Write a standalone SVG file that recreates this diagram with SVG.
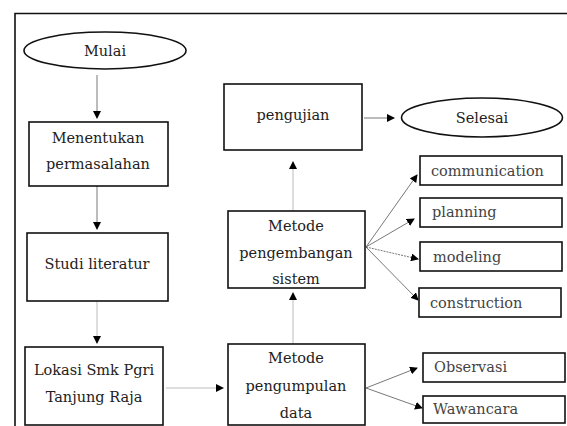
<svg xmlns="http://www.w3.org/2000/svg" width="567" height="426" viewBox="0 0 567 426">
<defs>
<marker id="ah" markerWidth="8" markerHeight="8" refX="7" refY="4" orient="auto" markerUnits="userSpaceOnUse">
<path d="M0,0 L8,4 L0,8 Z" fill="#000"/>
</marker>
<style>
.b{fill:#fff;stroke:#111;stroke-width:1.6}
.t{font-family:"DejaVu Serif","Liberation Serif",serif;font-size:14.5px;fill:#222;text-anchor:middle}
.l{font-family:"DejaVu Serif","Liberation Serif",serif;font-size:14.5px;fill:#444}
.c{stroke:#555;stroke-width:0.8;fill:none;marker-end:url(#ah)}
.g{stroke:#aaa;stroke-width:0.8;fill:none;marker-end:url(#ah)}
</style>
</defs>
<rect width="567" height="426" fill="#fff"/>
<path d="M15,426 V13.5 H567" fill="none" stroke="#111" stroke-width="1.6"/>
<g id="connectors">
<line class="c" x1="97" y1="75" x2="97" y2="118"/>
<line class="c" x1="97" y1="186" x2="97" y2="229"/>
<line class="g" x1="97" y1="301" x2="97" y2="343"/>
<line class="g" x1="166" y1="388" x2="223" y2="388"/>
<line class="g" x1="293" y1="344" x2="293" y2="293"/>
<line class="g" x1="293" y1="211" x2="293" y2="162"/>
<line class="c" x1="364" y1="118" x2="394" y2="118"/>
<line class="c" x1="366" y1="247" x2="417" y2="175"/>
<line class="c" x1="366" y1="247" x2="414" y2="219"/>
<line class="c" x1="366" y1="247" x2="418" y2="259" stroke-dasharray="2,1"/>
<line class="c" x1="366" y1="247" x2="418" y2="300"/>
<line class="c" x1="366" y1="388" x2="417" y2="368"/>
<line class="c" x1="366" y1="388" x2="422" y2="408"/>
</g>
<g id="mulai"><ellipse class="b" cx="105" cy="50.5" rx="81" ry="18.5"/><text class="t" x="105" y="56">Mulai</text></g>
<g id="menentukan"><rect class="b" x="29" y="122" width="139" height="64"/><text class="t" x="98" y="143">Menentukan</text><text class="t" x="98" y="169">permasalahan</text></g>
<g id="studi"><rect class="b" x="27" y="233" width="141" height="68"/><text class="t" x="97" y="269">Studi literatur</text></g>
<g id="lokasi"><rect class="b" x="25" y="347" width="138" height="78"/><text class="t" x="94" y="375">Lokasi Smk Pgri</text><text class="t" x="94" y="402">Tanjung Raja</text></g>
<g id="pengujian"><rect class="b" x="224" y="84" width="138" height="66"/><text class="t" x="293" y="120">pengujian</text></g>
<g id="selesai"><ellipse class="b" cx="482" cy="117.5" rx="80.5" ry="19.5"/><text class="t" x="482" y="123">Selesai</text></g>
<g id="pengembangan"><rect class="b" x="228" y="211" width="137" height="77"/><text class="t" x="296" y="231">Metode</text><text class="t" x="296" y="258">pengembangan</text><text class="t" x="296" y="284">sistem</text></g>
<g id="pengumpulan"><rect class="b" x="228" y="344" width="137" height="81"/><text class="t" x="296" y="363">Metode</text><text class="t" x="296" y="391">pengumpulan</text><text class="t" x="296" y="418">data</text></g>
<g id="communication"><rect class="b" x="420" y="156" width="142" height="29"/><text class="l" x="431" y="176">communication</text></g>
<g id="planning"><rect class="b" x="420" y="198" width="142" height="29"/><text class="l" x="432" y="217">planning</text></g>
<g id="modeling"><rect class="b" x="420" y="242" width="142" height="29"/><text class="l" x="433" y="262">modeling</text></g>
<g id="construction"><rect class="b" x="419" y="288" width="142" height="29"/><text class="l" x="430" y="308">construction</text></g>
<g id="observasi"><rect class="b" x="423" y="353" width="142" height="29"/><text class="l" x="434" y="372">Observasi</text></g>
<g id="wawancara"><rect class="b" x="423" y="396" width="142" height="27"/><text class="l" x="433" y="414">Wawancara</text></g>
</svg>
